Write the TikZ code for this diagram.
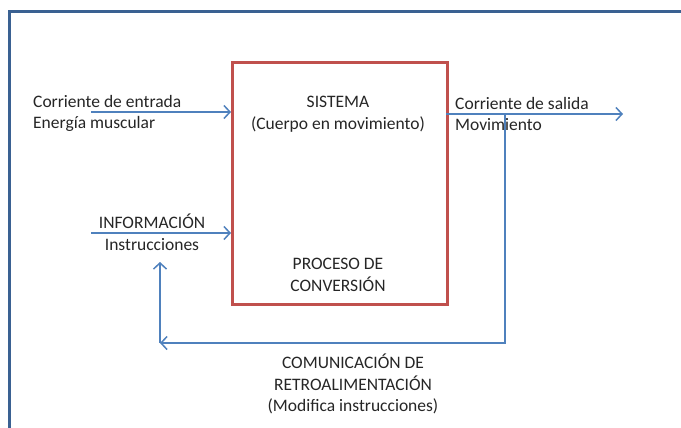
\documentclass[tikz,border=0pt]{standalone}
\usepackage{fontspec}
\setmainfont{Carlito}
\usetikzlibrary{arrows.meta}
\definecolor{frameblue}{HTML}{3A6192}
\definecolor{arrowblue}{HTML}{4F81BD}
\definecolor{boxred}{HTML}{C0504D}
\definecolor{txt}{HTML}{262626}
\begin{document}
\begin{tikzpicture}[x=1pt,y=-1pt,
  conn/.style={arrowblue,line width=1.6pt},
  arr/.style={conn,-{Straight Barb[length=6pt,width=13pt,line width=1.5pt]}},
  lbl/.style={font=\fontsize{17.5}{21.5}\selectfont,text=txt,inner sep=0pt,align=center,anchor=base},
  lbll/.style={lbl,align=left,anchor=base west}]
\useasboundingbox (0,0) rectangle (681,428);
\fill[white] (0,0) rectangle (681,428);
\draw[frameblue,line width=3pt] (9,428) -- (9,12) -- (681,12);
\node[draw=boxred,line width=3.2pt,minimum width=215pt,minimum height=242pt,anchor=north west,inner sep=0pt] (sys) at (231,61) {};
\node[lbl] (t1) at (338,129) {SISTEMA\\(Cuerpo en movimiento)};
\node[lbl] (t2) at (338,291) {PROCESO DE\\CONVERSIÓN};
\node[lbll] (in1) at (33,128.5) {Corriente de entrada\\Energía muscular};
\node[lbll] (out1) at (455,131) {Corriente de salida\\Movimiento};
\node[lbl] (inf) at (152,250) {INFORMACIÓN\\Instrucciones};
\node[lbl] (fb) at (353,411.5) {COMUNICACIÓN DE\\RETROALIMENTACIÓN\\(Modifica instrucciones)};
\coordinate (a1) at (91,112);
\coordinate (a2) at (231,112);
\coordinate (b1) at (446,114);
\coordinate (b2) at (623,114);
\coordinate (c1) at (91,233);
\coordinate (c2) at (231,233);
\coordinate (f1) at (505,114);
\coordinate (f2) at (505,343);
\coordinate (f3) at (160,343);
\coordinate (f4) at (160,262);
\draw[arr] (a1) -- (a2);
\draw[arr] (b1) -- (b2);
\draw[arr] (c1) -- (c2);
\draw[arr] (f1) -- (f2) -- (f3);
\draw[arr] (f3) -- (f4);
\end{tikzpicture}
\end{document}
